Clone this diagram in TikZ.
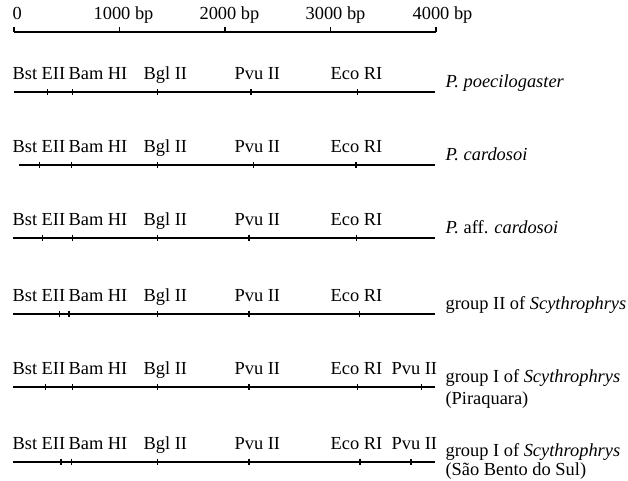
\documentclass[tikz,border=0pt]{standalone}
\usepackage{fontspec}
\setmainfont{Liberation Serif}
\begin{document}
\begin{tikzpicture}[x=0.5pt,y=-0.5pt,line width=0.6pt,
  lbl/.style={anchor=base west,inner sep=0pt,font=\fontsize{9.2}{11}\selectfont},
  cut/.style={line width=0.6pt}]
\useasboundingbox (0,0) rectangle (628,481);

% scale bar
\draw (14,32) -- (436,32);
\foreach \t in {14,119.5,225,330.7,436} \draw (\t,32) -- (\t,27);
\node[lbl] (s0) at (12,20) {0};
\node[lbl] (s1) at (93,20) {1000 bp};
\node[lbl] (s2) at (199,20) {2000 bp};
\node[lbl] (s3) at (305,20) {3000 bp};
\node[lbl] (s4) at (412,20) {4000 bp};

% enzyme labels for a row whose line sits at #1
\newcommand{\enzymes}[2]{%
  \node[lbl] (bst#2) at (12,#1-12) {Bst EII};
  \node[lbl] (bam#2) at (68,#1-12) {Bam HI};
  \node[lbl] (bgl#2) at (143,#1-12) {Bgl II};
  \node[lbl] (pvu#2) at (234,#1-12) {Pvu II};
  \node[lbl] (eco#2) at (330,#1-12) {Eco RI};
}

% row 1
\draw (14,92) -- (435,92);
\foreach \t in {47.7,72.7,157.7,251,357.7} \draw[cut] (\t,89) -- (\t,95);
\enzymes{92}{a}
\node[lbl] (spa) at (445,88) {\textit{P. poecilogaster}};

% row 2
\draw (19,165) -- (435,165);
\foreach \t in {39.3,71.7,157.7,253.3,356} \draw[cut] (\t,162) -- (\t,168);
\enzymes{165}{b}
\node[lbl] (spb) at (445,161) {\textit{P. cardosoi}};

% row 3
\draw (13.3,238) -- (435,238);
\foreach \t in {42.3,72.3,157.7,249,356.7} \draw[cut] (\t,235) -- (\t,241);
\enzymes{238}{c}
\node[lbl] (spc) at (445,234) {\textit{P.} aff. \textit{cardosoi}};

% row 4
\draw (13.3,314) -- (435,314);
\foreach \t in {59.3,69,157.7,249,359.3} \draw[cut] (\t,311) -- (\t,317);
\enzymes{314}{d}
\node[lbl] (spd) at (445,310) {group II of \textit{Scythrophrys}};

% row 5
\draw (13.3,387) -- (435,387);
\foreach \t in {45.7,72.7,157.7,249,357.7,421.7} \draw[cut] (\t,384) -- (\t,390);
\enzymes{387}{e}
\node[lbl] (pvue2) at (391,375) {Pvu II};
\node[lbl] (spe) at (445,383) {group I of \textit{Scythrophrys}};
\node[lbl] (spe2) at (445,405) {(Piraquara)};

% row 6
\draw (13.3,462) -- (435,462);
\foreach \t in {61,71.7,157.7,249,360,411} \draw[cut] (\t,459) -- (\t,465);
\enzymes{462}{f}
\node[lbl] (pvuf2) at (391,450) {Pvu II};
\node[lbl] (spf) at (445,457) {group I of \textit{Scythrophrys}};
\node[lbl] (spf2) at (445,476) {(São Bento do Sul)};
\end{tikzpicture}
\end{document}
